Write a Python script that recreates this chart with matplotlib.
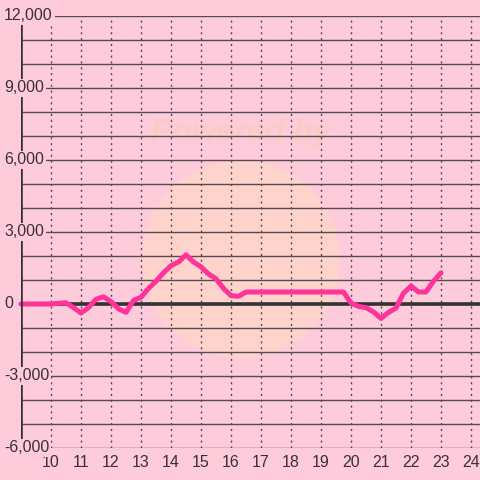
import matplotlib
matplotlib.use("Agg")
import matplotlib.pyplot as plt
import matplotlib.transforms as mtransforms
from matplotlib.patches import Ellipse

# values (x in hours, y in value units)
hours = [9.0, 10.0, 10.25, 10.5, 10.75, 11.0, 11.25, 11.5, 11.75, 12.0,
         12.25, 12.5, 12.75, 13.0, 13.25, 13.5, 13.75, 14.0, 14.25, 14.5,
         14.75, 15.0, 15.25, 15.5, 15.75, 16.0, 16.25, 16.5, 17.0, 18.0,
         19.0, 19.75, 20.0, 20.25, 20.5, 20.75, 21.0, 21.25, 21.5, 21.75,
         22.0, 22.25, 22.5, 22.75, 23.0]
values = [0, 0, 30, 50, -150, -375, -150, 200, 300, 100,
          -200, -350, 150, 280, 650, 950, 1300, 1600, 1750, 2050,
          1750, 1550, 1250, 1050, 650, 350, 320, 500, 500, 500,
          500, 500, 40, -100, -150, -330, -600, -350, -170, 450,
          750, 500, 500, 950, 1300]

x_ticks = list(range(10, 25))
y_grid = list(range(-6000, 12001, 1000))
y_label_vals = [-6000, -3000, 0, 3000, 6000, 9000, 12000]
y_label_text = ["-6,000", "-3,000", "0", "3,000", "6,000", "9,000", "12,000"]

BG = "#fecbdb"
GRID = "#5a4752"
AXIS = "#333333"
LINE = "#ff3399"
TEXT = "#3a3035"

plt.rcParams["font.family"] = ["Liberation Sans", "DejaVu Sans"]

fig = plt.figure(figsize=(4.8, 4.8), dpi=100, facecolor=BG)
ax = fig.add_axes([21 / 480, 1 - 448 / 480, 1 - 21 / 480, (448 - 16) / 480])
ax.set_facecolor(BG)
ax.set_xlim(9, 24.3)
ax.set_ylim(-6000, 12000)
for s in ax.spines.values():
    s.set_visible(False)
ax.set_yticks([])

# faint watermark
ax.add_patch(Ellipse((0.479, 0.4375), 0.431, 0.458, transform=ax.transAxes,
                     facecolor="#ffd6c8", edgecolor="none", alpha=0.8, zorder=0.5))
ax.text(0.479, 0.729, "Powered by", transform=ax.transAxes, ha="center", va="center",
        fontsize=23, fontweight="bold", fontstyle="italic", color="#f9ccc4", zorder=0.6)

# grid
for v in y_grid:
    ax.axhline(v, color=GRID, lw=1.0, zorder=1)
for xv in x_ticks:
    ax.axvline(xv, color=GRID, lw=1.0, ls=(0, (1.5, 2.7)), zorder=1)
ax.axhline(0, color=AXIS, lw=2.6, zorder=1.5)

ax.plot(hours, values, color=LINE, lw=3.6, solid_joinstyle="round",
        solid_capstyle="round", clip_on=False, zorder=3)

ax.axvline(9, color=AXIS, lw=2.6, zorder=4)

# y labels with background boxes covering the axis
label_tr = mtransforms.blended_transform_factory(fig.transFigure, ax.transData)
for v, t in zip(y_label_vals, y_label_text):
    ax.text(4 / 480, v, t, transform=label_tr, ha="left", va="center",
            fontsize=11.5, color=TEXT, zorder=5,
            bbox=dict(boxstyle="square,pad=0.12", facecolor=BG, edgecolor="none"))

ax.set_xticks(x_ticks)
ax.set_xticklabels([str(x) for x in x_ticks])
ax.tick_params(axis="x", length=0, pad=5, labelsize=11.5, labelcolor=TEXT)

fig.savefig("out.png", dpi=100, facecolor=BG)
